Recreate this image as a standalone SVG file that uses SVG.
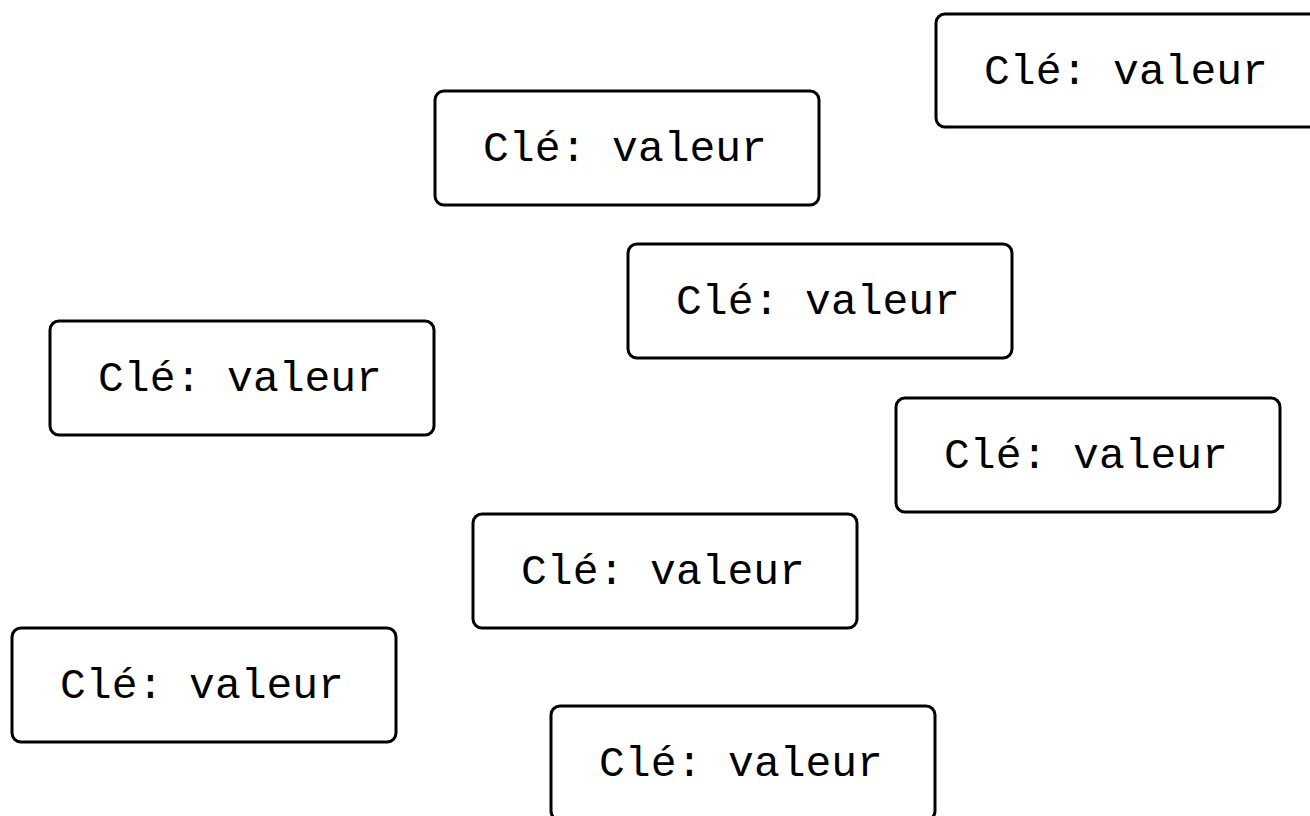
<svg xmlns="http://www.w3.org/2000/svg" width="1310" height="816" viewBox="0 0 1310 816">
<style>
.box{fill:#fff;stroke:#000;stroke-width:3}
.lbl{font-family:"Liberation Mono",monospace;font-size:43px;fill:#000;text-anchor:middle}
</style>
<rect width="1310" height="816" fill="#fff"/>
<g id="n1"><rect class="box" x="936" y="14" width="384" height="113" rx="9"/><text class="lbl" x="1126" y="84">Clé: valeur</text></g>
<g id="n2"><rect class="box" x="435" y="91" width="384" height="114" rx="9"/><text class="lbl" x="625" y="161">Clé: valeur</text></g>
<g id="n3"><rect class="box" x="628" y="244" width="384" height="114" rx="9"/><text class="lbl" x="818" y="314">Clé: valeur</text></g>
<g id="n4"><rect class="box" x="50" y="321" width="384" height="114" rx="9"/><text class="lbl" x="240" y="391">Clé: valeur</text></g>
<g id="n5"><rect class="box" x="896" y="398" width="384" height="114" rx="9"/><text class="lbl" x="1086" y="468">Clé: valeur</text></g>
<g id="n6"><rect class="box" x="473" y="514" width="384" height="114" rx="9"/><text class="lbl" x="663" y="584">Clé: valeur</text></g>
<g id="n7"><rect class="box" x="12" y="628" width="384" height="114" rx="9"/><text class="lbl" x="202" y="698">Clé: valeur</text></g>
<g id="n8"><rect class="box" x="551" y="706" width="384" height="114" rx="9"/><text class="lbl" x="741" y="776">Clé: valeur</text></g>
<g id="connectors"></g>
</svg>
